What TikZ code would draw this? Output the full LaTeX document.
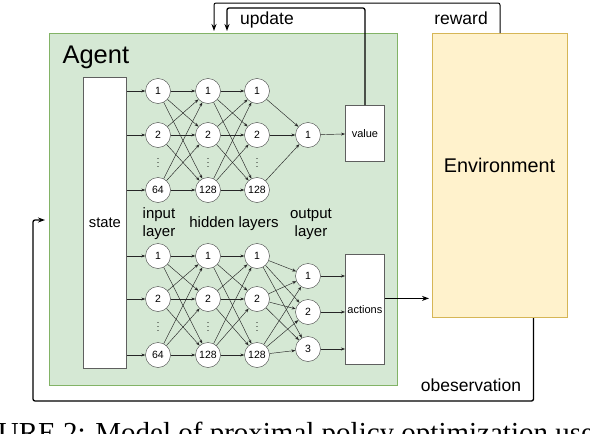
\documentclass[tikz,border=0pt]{standalone}
\usepackage{fontspec}
\setmainfont{Liberation Sans}
\newfontfamily\capfont{Liberation Serif}
\usetikzlibrary{positioning,arrows.meta,calc}
\definecolor{agentfill}{HTML}{D5E8D4}
\definecolor{agentline}{HTML}{82B366}
\definecolor{envfill}{HTML}{FFF2CC}
\definecolor{envline}{HTML}{D6B656}
\definecolor{boxline}{HTML}{5F5F5F}

\begin{document}
\begin{tikzpicture}[x=1pt,y=-1pt,
    neuron/.style={circle,draw=black!75,fill=white,minimum size=25pt,inner sep=0pt,
      font=\fontsize{10.5}{10.5}\selectfont},
    whitebox/.style={draw=boxline,fill=white,line width=.8pt,inner sep=0pt,anchor=north west},
    link/.style={-{Stealth[length=4pt,width=3pt]},line width=.45pt,draw=black!85},
    flow/.style={-{Stealth[length=7pt,width=5pt]},line width=1.3pt,rounded corners=2pt},
    label/.style={font=\fontsize{17.5}{17.5}\selectfont}]
    \useasboundingbox (0,0) rectangle (590,434);
    \clip (0,0) rectangle (590,434);

    % agent and environment
    \node[draw=agentline,fill=agentfill,line width=1pt,minimum width=348pt,minimum height=352pt,
      anchor=north west] (agent) at (49,33) {};
    \node[anchor=base west,font=\fontsize{25.5}{25.5}\selectfont] (agenttxt) at (59,63) {Agent};
    \node[draw=envline,fill=envfill,line width=1pt,minimum width=135pt,minimum height=284pt,
      anchor=north west] (env) at (432,33) {};
    \node[font=\fontsize{19.8}{19.8}\selectfont] (envtxt) at (499.5,165) {Environment};

    \node[whitebox,minimum width=43pt,minimum height=291pt] (state) at (83,77) {};
    \node[font=\fontsize{14.8}{14.8}\selectfont] (statetxt) at (state.center) {state};
    \node[whitebox,minimum width=39pt,minimum height=56pt,font=\fontsize{11}{11}\selectfont]
      (value) at (345,105) {value};
    \node[whitebox,minimum width=39pt,minimum height=110pt,font=\fontsize{11}{11}\selectfont]
      (actions) at (345,254) {actions};

    % neurons
    \foreach \g/\ya/\yb/\yc in {t/91/135/190, b/256/299/355} {
      \foreach \c/\x/\lab in {i/158/64, h/208/128, k/257/128} {
        \node[neuron] (\g\c1) at (\x,\ya) {1};
        \node[neuron] (\g\c2) at (\x,\yb) {2};
        \node[neuron] (\g\c3) at (\x,\yc) {\lab};
        \node[inner sep=0pt,font=\fontsize{9}{9}\selectfont] (\g\c d)
          at ($(\g\c2)!.45!(\g\c3)$) {$\vdots$};
      }
    }
    \node[neuron] (to1) at (308,135) {1};
    \node[neuron] (bo1) at (308,276) {1};
    \node[neuron] (bo2) at (308,312) {2};
    \node[neuron] (bo3) at (308,349) {3};

    \node[align=center,font=\fontsize{15}{18}\selectfont] (inlab) at (159,224) {input\\layer};
    \node[font=\fontsize{15}{18}\selectfont] (hidlab) at (234,224) {hidden layers};
    \node[align=center,font=\fontsize{15}{18}\selectfont] (outlab) at (311,224) {output\\layer};

    % connections
    \foreach \g in {t,b} {
      \foreach \a in {1,2,3} {
        \draw[link] (state.east |- \g i\a) -- (\g i\a);
        \foreach \b in {1,2,3} {
          \draw[link] (\g i\a) -- (\g h\b);
          \draw[link] (\g h\a) -- (\g k\b);
        }
      }
    }
    \foreach \a in {1,2,3} {
      \draw[link] (tk\a) -- (to1);
      \foreach \b in {1,2,3}
        \draw[link] (bk\a) -- (bo\b);
      \draw[link] (bo\a) -- (bo\a -| actions.west);
    }
    \draw[link] (to1) -- (value);

    % loop between agent and environment
    \coordinate (updtop) at (227,8);
    \coordinate (updend) at (227,31);
    \coordinate (rewtop) at (214,3);
    \coordinate (rewend) at (214,31);
    \coordinate (obsbot) at (33,401);
    \coordinate (obsend) at (45,220);
    \draw[flow,shorten >=3pt] ([yshift=11pt]actions.east) -- ([yshift=11pt]actions.east -| env.west);
    \draw[flow] (value.north) |- (updtop) -- (updend);
    \draw[flow,line width=1pt] (env.north) |- (rewtop) -- (rewend);
    \draw[flow] ([xshift=33.5pt]env.south) |- (obsbot) |- (obsend);
    \node[label] (updtxt) at (267,20) {update};
    \node[label] (rewtxt) at (461,18) {reward};
    \node[label] (obstxt) at (471,385) {obeservation};

    % caption, cut by the page
    \node[anchor=base west,inner sep=0pt,font=\capfont\fontsize{29}{29}\selectfont] (cap)
      at (-49,442) {FIGURE 2: Model of proximal policy optimization used};
\end{tikzpicture}
\end{document}
